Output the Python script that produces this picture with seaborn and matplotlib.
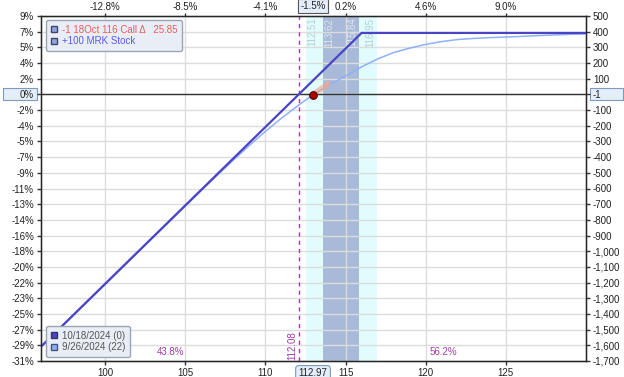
import matplotlib
matplotlib.use("Agg")
import matplotlib.pyplot as plt
import matplotlib.transforms as mtransforms
from matplotlib.lines import Line2D
from matplotlib.patches import Rectangle
import seaborn as sns
import pandas as pd

# ---------------- data ----------------
exp_price = [96, 116.0, 130]
exp_pnl = [-1608, 392, 392]

t0_price = [96, 100, 104, 106, 107, 108, 109, 110, 111, 112, 112.97, 114, 115, 116,
            117, 118, 119, 120, 121, 122, 123, 124, 125, 126, 127, 128, 129, 130]
t0_pnl = [-1612, -1212, -812, -613, -515, -419, -326, -236, -152, -74, -1, 62, 117, 176,
          226, 267, 295, 319, 337, 350, 357, 362, 366, 370, 375, 379, 383, 386]

current_price = 112.97
current_pnl = -1
breakeven = 112.08
band_outer = [112.51, 116.95]
band_inner = [113.62, 115.84]
delta_seg_price = [112.97, 114.0]
delta_seg_pnl = [-1, 73]

x_ticks = [100, 105, 110, 115, 120, 125]
x_top_labels = ["-12.8%", "-8.5%", "-4.1%", "0.2%", "4.6%", "9.0%"]
y_ticks = [500, 400, 300, 200, 100, 0, -100, -200, -300, -400, -500, -600, -700, -800,
           -900, -1000, -1100, -1200, -1300, -1400, -1500, -1600, -1700]
y_left_labels = ["9%", "7%", "5%", "4%", "2%", "0%", "-2%", "-4%", "-5%", "-7%", "-9%",
                 "-11%", "-13%", "-14%", "-16%", "-18%", "-20%", "-22%", "-23%", "-25%",
                 "-27%", "-29%", "-31%"]
y_right_labels = ["500", "400", "300", "200", "100", "-1", "-100", "-200", "-300", "-400",
                  "-500", "-600", "-700", "-800", "-900", "-1,000", "-1,100", "-1,200",
                  "-1,300", "-1,400", "-1,500", "-1,600", "-1,700"]
prob_labels = ["43.8%", "56.2%"]
prob_x = [104.1, 121.1]
legend_top = ["-1 18Oct 116 Call \u0394   25.85", "+100 MRK Stock"]
legend_bottom = ["10/18/2024 (0)", "9/26/2024 (22)"]

# ---------------- style ----------------
sns.set_style("white")
plt.rcParams["font.family"] = ["Liberation Sans", "DejaVu Sans"]
plt.rcParams["font.size"] = 7

DARK = "#4a44c4"
LIGHT = "#8fb0f8"
PURPLE = "#a33aa8"
BOXFC = "#e4eefa"
BOXEC = "#7a9ac0"

W, H = 624, 377
fig = plt.figure(figsize=(6.24, 3.77), dpi=100)
ax = fig.add_axes([41 / W, 16 / H, (586 - 41) / W, (361 - 16) / H])
ax.set_xlim(96, 130)
ax.set_ylim(-1700, 500)

# boxes behind the current-value tick labels (left and right)
zero_y = 94.3
for x0, x1 in [(3, 37), (590, 623)]:
    fig.patches.append(Rectangle((x0 / W, (H - zero_y - 6) / H), (x1 - x0) / W, 12 / H,
                                 transform=fig.transFigure, fc=BOXFC, ec=BOXEC, lw=0.8,
                                 zorder=-5))

# bands
ax.axvspan(band_outer[0], band_outer[1], color="#e0fcfd", zorder=0, lw=0)
ax.axvspan(band_inner[0], band_inner[1], color="#a8bad8", zorder=0.5, lw=0)

# grid
for xv in x_ticks:
    ax.axvline(xv, color="#dcdcdc", lw=1, zorder=1)
for yv in y_ticks:
    ax.axhline(yv, color="#dcdcdc", lw=1, zorder=1)
ax.axhline(0, color="#333333", lw=1, zorder=2)

# band labels
trans = mtransforms.blended_transform_factory(ax.transData, ax.transAxes)
for v, ha, col in [(band_outer[0], "left", "#b7cdd6"), (band_inner[0], "left", "#dfe6f2"),
                   (band_inner[1], "right", "#dfe6f2"), (band_outer[1], "right", "#b7cdd6")]:
    off = 0.08 if ha == "left" else -0.08
    ax.text(v + off, 0.995, f"{v:.2f}", rotation=90, ha=ha, va="top", color=col,
            fontsize=7, transform=trans, zorder=3)

# breakeven
ax.axvline(breakeven, color=PURPLE, lw=1, ls=(0, (3, 3)), zorder=3)
ax.text(breakeven - 0.12, -1600, f"{breakeven:.2f}", rotation=90, ha="right", va="center",
        color=PURPLE, fontsize=7, zorder=3)

# lines
df = pd.concat([
    pd.DataFrame({"price": exp_price, "pnl": exp_pnl, "series": legend_bottom[0]}),
    pd.DataFrame({"price": t0_price, "pnl": t0_pnl, "series": legend_bottom[1]}),
])
sns.lineplot(data=df, x="price", y="pnl", hue="series", palette=[DARK, LIGHT],
             hue_order=[legend_bottom[0], legend_bottom[1]], ax=ax, legend=False,
             sort=False, estimator=None, zorder=5)
ax.lines[-2].set_linewidth(1.6)
ax.lines[-1].set_linewidth(1.1)
ax.lines[-1].set_zorder(4)

# delta segment and current point
ax.plot(delta_seg_price, delta_seg_pnl, color="#f2a890", lw=4, alpha=0.7,
        solid_capstyle="butt", zorder=6)
ax.scatter([current_price], [current_pnl], s=30, color="#b00000", edgecolor="#500000",
           linewidth=0.8, zorder=7)

# probability labels
for xv, lab in zip(prob_x, prob_labels):
    ax.text(xv, -1645, lab, color=PURPLE, fontsize=7, ha="center", va="center", zorder=3)

# axes/ticks
ax.set_xticks(x_ticks)
ax.set_xticklabels([str(t) for t in x_ticks])
ax.set_yticks(y_ticks)
ax.set_yticklabels(y_left_labels)
ax.set_xlabel("")
ax.set_ylabel("")
ax.tick_params(axis="both", direction="out", length=3, width=1, color="#333333",
               labelsize=7, labelcolor="#222222", pad=2)
for s in ax.spines.values():
    s.set_color("#333333")
    s.set_linewidth(1)
    s.set_visible(True)

axr = ax.twinx()
axr.set_ylim(ax.get_ylim())
axr.set_yticks(y_ticks)
axr.set_yticklabels(y_right_labels)
axr.tick_params(axis="y", direction="out", length=3, width=1, color="#333333",
                labelsize=7, labelcolor="#222222", pad=2)
for s in axr.spines.values():
    s.set_color("#333333")

axt = ax.twiny()
axt.set_xlim(ax.get_xlim())
axt.set_xticks(x_ticks)
axt.set_xticklabels(x_top_labels)
axt.tick_params(axis="x", direction="out", length=2, width=1, color="#333333",
                labelsize=7, labelcolor="#222222", pad=1)

# boxed current-price labels
ax.annotate(f"{current_price:.2f}", xy=(current_price, 0), xycoords=trans,
            xytext=(0, -9), textcoords="offset points", ha="center", va="center",
            fontsize=7, color="#222222",
            bbox=dict(boxstyle="round,pad=0.3", fc=BOXFC, ec=BOXEC, lw=0.8),
            annotation_clip=False, zorder=10)
ax.annotate("-1.5%", xy=(current_price, 1), xycoords=trans,
            xytext=(0, 7), textcoords="offset points", ha="center", va="center",
            fontsize=7, color="#222222",
            bbox=dict(boxstyle="square,pad=0.2", fc=BOXFC, ec="#555555", lw=0.8),
            annotation_clip=False, zorder=10)

# legends
sq = dict(marker="s", linestyle="none", markersize=5)
h_top = [Line2D([], [], markerfacecolor="#8da6e6", markeredgecolor="#444466", **sq),
         Line2D([], [], markerfacecolor="#8da6e6", markeredgecolor="#444466", **sq)]
leg1 = ax.legend(h_top, legend_top, loc="upper left", bbox_to_anchor=(0.009, 0.988),
                 borderaxespad=0, fontsize=7, frameon=True, fancybox=True,
                 handlelength=0.8, handletextpad=0.4, borderpad=0.45, labelspacing=0.2)
leg1.get_frame().set_facecolor("#e9eef6")
leg1.get_frame().set_edgecolor("#9aa4b4")
leg1.get_frame().set_alpha(1)
leg1.get_texts()[0].set_color("#f05a5a")
leg1.get_texts()[1].set_color("#5a5af0")
ax.add_artist(leg1)

h_bot = [Line2D([], [], markerfacecolor=DARK, markeredgecolor="#333366", **sq),
         Line2D([], [], markerfacecolor=LIGHT, markeredgecolor="#445577", **sq)]
leg2 = ax.legend(h_bot, legend_bottom, loc="lower left", bbox_to_anchor=(0.009, 0.012),
                 borderaxespad=0, fontsize=7, frameon=True, fancybox=True,
                 handlelength=0.8, handletextpad=0.4, borderpad=0.45, labelspacing=0.2)
leg2.get_frame().set_facecolor("#e9eef6")
leg2.get_frame().set_edgecolor("#9aa4b4")
leg2.get_frame().set_alpha(1)
for t in leg2.get_texts():
    t.set_color("#555555")

fig.savefig("out.png", dpi=100)
